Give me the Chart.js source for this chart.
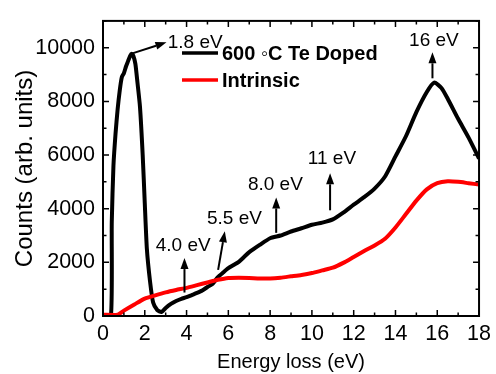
<!DOCTYPE html>
<html>
<head>
<meta charset="utf-8">
<script src="https://cdn.jsdelivr.net/npm/chart.js@4.4.0/dist/chart.umd.min.js"></script>
<style>
html,body{margin:0;padding:0;background:#fff;}
#wrap{width:496px;height:374px;}
</style>
</head>
<body>
<div id="wrap"><canvas id="c" width="496" height="374"></canvas></div>
<script>
// ---- Data ----
const dopedEnergy = [0, 0.38, 0.42, 0.5, 0.6, 0.7, 0.8, 0.9, 1.0, 1.1, 1.2, 1.3, 1.37, 1.45, 1.55, 1.65, 1.77, 1.9, 2.0, 2.1, 2.25, 2.4, 2.6, 2.8, 3.0, 3.25, 3.5, 3.75, 4.0, 4.25, 4.5, 4.75, 5.0, 5.25, 5.5, 5.75, 6.0, 6.25, 6.5, 6.75, 7.0, 7.5, 8.0, 8.5, 9.0, 9.5, 10.0, 10.5, 11.0, 11.5, 12.0, 12.5, 13.0, 13.5, 14.0, 14.5, 15.0, 15.5, 15.85, 16.2, 16.5, 17.0, 17.5, 18.0];
const dopedCounts = [0, 0, 3500, 5600, 6800, 7700, 8400, 8900, 9050, 9300, 9500, 9700, 9780, 9700, 9400, 8700, 7800, 6000, 4200, 2500, 1300, 500, 220, 150, 300, 450, 560, 640, 700, 780, 860, 950, 1080, 1200, 1450, 1620, 1780, 1900, 2020, 2200, 2380, 2650, 2900, 3000, 3150, 3270, 3400, 3480, 3600, 3850, 4150, 4430, 4750, 5200, 5950, 6700, 7600, 8350, 8700, 8500, 8100, 7350, 6650, 5870];

const intrinsicEnergy = [0, 0.7, 1.0, 1.5, 2.0, 2.5, 3.0, 3.5, 4.0, 4.5, 5.0, 5.5, 6.0, 6.5, 7.0, 7.5, 8.0, 8.5, 9.0, 9.5, 10.0, 10.5, 11.0, 11.5, 12.0, 12.5, 13.0, 13.5, 14.0, 14.5, 15.0, 15.5, 16.0, 16.5, 17.0, 17.5, 18.0];
const intrinsicCounts = [50, 50, 200, 430, 650, 770, 880, 970, 1050, 1150, 1250, 1350, 1420, 1430, 1420, 1400, 1400, 1430, 1480, 1530, 1600, 1700, 1800, 1980, 2200, 2420, 2630, 2880, 3300, 3800, 4300, 4720, 4950, 5020, 5000, 4950, 4900];

const seriesNames = ['600 \u25E6C Te Doped', 'Intrinsic'];
const seriesColors = ['#000000', '#ff0000'];

const xTickValues = [0, 2, 4, 6, 8, 10, 12, 14, 16, 18];
const yTickValues = [0, 2000, 4000, 6000, 8000, 10000];

// Peak annotations (data coordinates)
const annLabels = ['1.8 eV', '4.0 eV', '5.5 eV', '8.0 eV', '11 eV', '16 eV'];
const annTextX  = [3.1, 3.84, 6.29, 8.25, 10.96, 15.84];
const annTextY  = [10200, 2630, 3640, 4900, 5870, 10250];
const annAlign  = ['left', 'center', 'center', 'center', 'center', 'center'];
const arrowFromX = [1.37, 3.9, 5.51, 8.29, 10.87, 15.77];
const arrowFromY = [9780, 875, 1720, 3100, 3940, 8860];
const arrowToX   = [3.04, 3.9, 5.83, 8.29, 10.87, 15.77];
const arrowToY   = [10200, 2160, 3160, 4420, 5320, 9830];

const FONT = "'Liberation Sans', Arial, Helvetica, sans-serif";

function pts(xs, ys){ return xs.map((x,i)=>({x:x, y:ys[i]})); }

const framePlugin = {
  id: 'frame',
  afterDatasetsDraw(chart){
    const {ctx, chartArea:a, scales:{x, y}} = chart;
    ctx.save();
    ctx.strokeStyle = '#000';
    ctx.lineWidth = 1.5;
    ctx.beginPath();
    for (let v = 0; v <= 18; v += 1){
      const px = x.getPixelForValue(v);
      const len = (v % 2 === 0) ? 6 : 3.5;
      ctx.moveTo(px, a.bottom); ctx.lineTo(px, a.bottom - len);
      ctx.moveTo(px, a.top); ctx.lineTo(px, a.top + len);
    }
    for (let v = 0; v <= 11000; v += 1000){
      const py = y.getPixelForValue(v);
      const len = (v % 2000 === 0) ? 6 : 3.5;
      ctx.moveTo(a.left, py); ctx.lineTo(a.left + len, py);
      ctx.moveTo(a.right, py); ctx.lineTo(a.right - len, py);
    }
    ctx.stroke();
    ctx.lineWidth = 2;
    ctx.strokeRect(a.left, a.top, a.right - a.left, a.bottom - a.top);

    // annotations
    ctx.fillStyle = '#000';
    ctx.strokeStyle = '#000';
    ctx.lineWidth = 2;
    for (let i = 0; i < annLabels.length; i++){
      const x0 = x.getPixelForValue(arrowFromX[i]), y0 = y.getPixelForValue(arrowFromY[i]);
      const x1 = x.getPixelForValue(arrowToX[i]), y1 = y.getPixelForValue(arrowToY[i]);
      const ang = Math.atan2(y1 - y0, x1 - x0);
      const hl = 11, hw = 4;
      const bx = x1 - hl * Math.cos(ang), by = y1 - hl * Math.sin(ang);
      ctx.beginPath(); ctx.moveTo(x0, y0); ctx.lineTo(bx, by); ctx.stroke();
      ctx.beginPath();
      ctx.moveTo(x1, y1);
      ctx.lineTo(bx + hw * Math.sin(ang), by - hw * Math.cos(ang));
      ctx.lineTo(bx - hw * Math.sin(ang), by + hw * Math.cos(ang));
      ctx.closePath(); ctx.fill();
      ctx.font = '19px ' + FONT;
      ctx.textAlign = annAlign[i];
      ctx.textBaseline = 'middle';
      ctx.fillText(annLabels[i], x.getPixelForValue(annTextX[i]), y.getPixelForValue(annTextY[i]));
    }

    // legend
    const lx0 = 182, lx1 = 218, ly = [53, 80];
    for (let i = 0; i < seriesNames.length; i++){
      ctx.strokeStyle = seriesColors[i];
      ctx.lineWidth = 3.5;
      ctx.beginPath(); ctx.moveTo(lx0, ly[i]); ctx.lineTo(lx1, ly[i]); ctx.stroke();
      ctx.fillStyle = '#000';
      ctx.font = 'bold 20px ' + FONT;
      ctx.textAlign = 'left';
      ctx.textBaseline = 'middle';
      ctx.fillText(seriesNames[i], 222, ly[i] + 1);
    }
    ctx.restore();
  }
};

new Chart(document.getElementById('c'), {
  type: 'line',
  data: {
    datasets: [
      { label: seriesNames[1], data: pts(intrinsicEnergy, intrinsicCounts), borderColor: seriesColors[1], borderWidth: 4, pointRadius: 0, tension: 0.2, fill: false },
      { label: seriesNames[0], data: pts(dopedEnergy, dopedCounts), borderColor: seriesColors[0], borderWidth: 4, pointRadius: 0, tension: 0.2, fill: false }
    ]
  },
  options: {
    responsive: false,
    animation: false,
    layout: { padding: { top: 11, right: 16, left: 0, bottom: 0 } },
    plugins: { legend: { display: false }, tooltip: { enabled: false } },
    scales: {
      x: {
        type: 'linear', min: 0, max: 18,
        grid: { display: false, drawTicks: false },
        border: { display: false },
        afterBuildTicks: s => { s.ticks = xTickValues.map(v => ({value: v})); },
        afterFit: s => { s.height = 58; },
        ticks: { color: '#000', font: { family: FONT, size: 21.5 }, padding: 5, maxRotation: 0, autoSkip: false, callback: v => String(v) },
        title: { display: true, text: 'Energy loss (eV)', color: '#000', font: { family: FONT, size: 20 }, padding: 0 }
      },
      y: {
        type: 'linear', min: 0, max: 11000,
        grid: { display: false, drawTicks: false },
        border: { display: false },
        afterBuildTicks: s => { s.ticks = yTickValues.map(v => ({value: v})); },
        afterFit: s => { s.width = 103; },
        ticks: { color: '#000', font: { family: FONT, size: 21.5 }, padding: 8, callback: v => String(v) },
        title: { display: true, text: 'Counts (arb. units)', color: '#000', font: { family: FONT, size: 24 }, padding: { top: 10.6, bottom: 0 } }
      }
    }
  },
  plugins: [framePlugin]
});
</script>
</body>
</html>
